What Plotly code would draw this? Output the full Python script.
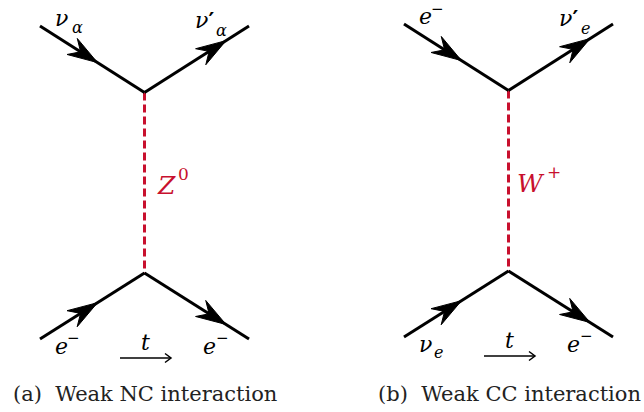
import plotly.graph_objects as go
import math

# ---------------- data ----------------
# diagram geometry (data units; axes map 1 unit = 1 page pixel)
vertex_top = [144.5, 92.5]
vertex_bottom = [144.5, 273.0]
leg_outer_x = [40, 249, 40, 249]
leg_outer_y = [26, 26, 339, 339]
leg_vertex = ["top", "top", "bottom", "bottom"]
leg_incoming = [True, False, True, False]
diagram_dx = [0, 364]
diagram_dy = [0, -2]

# particle labels per diagram: (main, superscript/prime, subscript)
boson_labels = ["Z", "W"]
boson_sup = ["0", "+"]
captions = ["(a)\u00a0\u00a0Weak NC interaction", "(b)\u00a0\u00a0Weak CC interaction"]
leg_main = [["ν", "ν", "e", "e"], ["e", "ν", "ν", "e"]]
leg_sup = [["", "′", "−", "−"], ["−", "′", "", "−"]]
leg_sub = [["α", "α", "", ""], ["", "e", "e", ""]]
time_label = "t"

# ---------------- style ----------------
BLACK = "#000000"
RED = "#C8102E"
MATH = "DejaVu Serif"
FS = 22
FS_SMALL = 15
FS_SUB = 16

fig = go.Figure()
ann = []

def add_arrowhead(tx, ty, ux, uy, L=30, w=9.5, notch=20):
    px, py = -uy, ux
    xs = [tx, tx - L * ux + w * px, tx - notch * ux, tx - L * ux - w * px, tx]
    ys = [ty, ty - L * uy + w * py, ty - notch * uy, ty - L * uy - w * py, ty]
    fig.add_trace(go.Scatter(x=xs, y=ys, mode="lines", fill="toself",
                             fillcolor=BLACK, line=dict(color=BLACK, width=1),
                             hoverinfo="skip", showlegend=False))

def text(x, y, s, size=FS, color=BLACK, xanchor="center", family=MATH):
    ann.append(dict(x=x, y=y, xref="x", yref="y", showarrow=False,
                    text=s, font=dict(family=family, size=size, color=color),
                    xanchor=xanchor, yanchor="middle"))

# offsets relative to leg outer end
main_off = [(13, -8), (-56, -6), (13, 7), (-48, 7)]   # left edge of main letter
sub_off = [(37, 1), (-28, 4), (34, 15), (0, 0)]        # subscript centre
minus_off = [(33, -15), (0, 0), (33, -1), (-27, -1)]    # superscript minus centre

for d in range(2):
    dx, dy = diagram_dx[d], diagram_dy[d]
    vt = (vertex_top[0] + dx, vertex_top[1] + dy)
    vb = (vertex_bottom[0] + dx, vertex_bottom[1] + dy)
    # boson propagator
    fig.add_trace(go.Scatter(x=[vt[0], vb[0]], y=[vt[1], vb[1]], mode="lines",
                             line=dict(color=RED, width=3, dash="8px,4px"),
                             hoverinfo="skip", showlegend=False))
    for i in range(4):
        ox, oy = leg_outer_x[i] + dx, leg_outer_y[i] + dy
        v = vt if leg_vertex[i] == "top" else vb
        fig.add_trace(go.Scatter(x=[ox, v[0]], y=[oy, v[1]], mode="lines",
                                 line=dict(color=BLACK, width=3),
                                 hoverinfo="skip", showlegend=False))
        if leg_incoming[i]:
            sx, sy, ex, ey, f = ox, oy, v[0], v[1], 0.55
        else:
            sx, sy, ex, ey, f = v[0], v[1], ox, oy, 0.78
        ln = math.hypot(ex - sx, ey - sy)
        ux, uy = (ex - sx) / ln, (ey - sy) / ln
        add_arrowhead(sx + f * (ex - sx), sy + f * (ey - sy), ux, uy)

        # labels
        sup, sub = leg_sup[d][i], leg_sub[d][i]
        main = f"<i>{leg_main[d][i]}</i>"
        if sup == "′":
            main += "<b>′</b>"
        text(ox + main_off[i][0], oy + main_off[i][1], main, xanchor="left")
        if sup == "−":
            text(ox + minus_off[i][0], oy + minus_off[i][1], "−", size=FS_SMALL)
        if sub:
            text(ox + sub_off[i][0], oy + sub_off[i][1], f"<i>{sub}</i>", size=FS_SUB)

    # boson label
    text(vt[0] + 22, 185 + dy, f"<i>{boson_labels[d]}</i>", color=RED, size=25)
    text(vt[0] + 39 + (6 if d == 1 else 0), 174 + dy, boson_sup[d],
         size=17, color=RED)

    # time arrow
    tx0, tx1, ty = 120 + dx, 171 + dx, 358 + dy
    fig.add_trace(go.Scatter(x=[tx0, tx1, None, tx1 - 6, tx1, tx1 - 6],
                             y=[ty, ty, None, ty - 4.5, ty, ty + 4.5],
                             mode="lines", line=dict(color=BLACK, width=1.5),
                             hoverinfo="skip", showlegend=False))
    text(145 + dx, 342 + dy, f"<i>{time_label}</i>")

    # caption
    ann.append(dict(x=145 + dx, y=394, xref="x", yref="y", showarrow=False,
                    text=captions[d],
                    font=dict(family="DejaVu Serif", size=21, color="#222222"),
                    xanchor="center", yanchor="middle"))

fig.update_layout(
    width=644, height=412, margin=dict(l=0, r=0, t=0, b=0),
    paper_bgcolor="white", plot_bgcolor="white",
    xaxis=dict(range=[0, 644], visible=False, fixedrange=True),
    yaxis=dict(range=[412, 0], visible=False, fixedrange=True),
    annotations=ann, showlegend=False,
)
fig.write_html("out.html")
